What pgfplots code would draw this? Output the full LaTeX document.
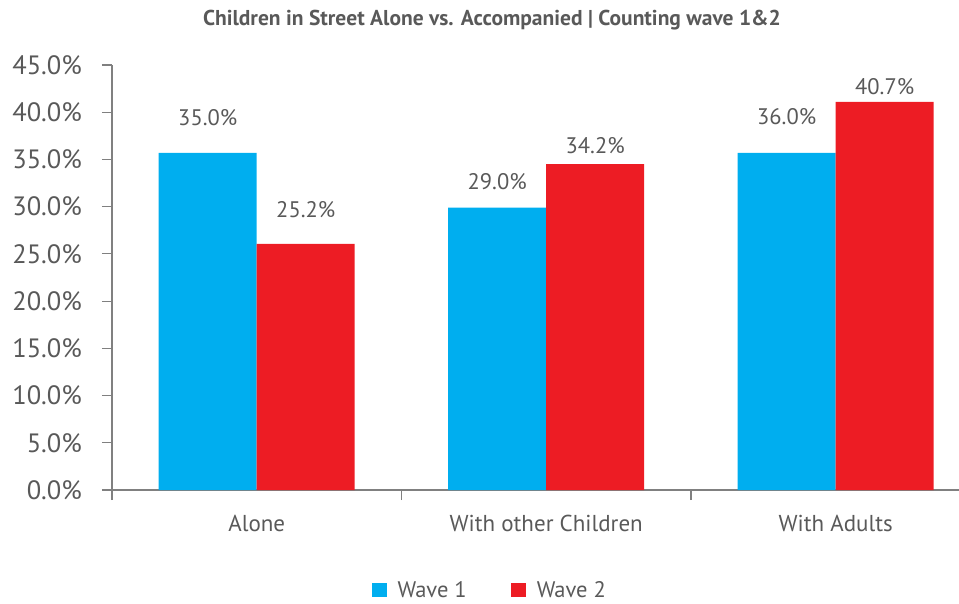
\documentclass[border=0pt]{standalone}
\usepackage{fontspec}
\setmainfont{PT Sans}
\usepackage{pgfplots}
\pgfplotsset{compat=1.18}
\usepackage{pgfplotstable}
\definecolor{wblue}{HTML}{00AEEF}
\definecolor{wred}{HTML}{ED1C24}
\definecolor{txtgray}{HTML}{595959}
\definecolor{axgray}{HTML}{808080}

% x: category index, y: bar height, lab: printed label, dy: label offset above bar (pt)
\pgfplotstableread{
x y lab dy
0 35.7 35.0 35
1 29.9 29.0 26
2 35.7 36.0 36
}\waveone
\pgfplotstableread{
x y lab dy
0 26.05 25.2 34
1 34.5 34.2 19
2 41.1 40.7 15
}\wavetwo

\begin{document}
\begin{tikzpicture}
\useasboundingbox (0,0) rectangle (959pt,603pt);
\begin{axis}[
  at={(112pt,113pt)}, anchor=south west,
  scale only axis, width=847pt, height=425pt,
  xmin=-0.5, xmax=2.426, ymin=0, ymax=45,
  ybar=0pt, bar width=98pt,
  axis lines*=left,
  axis line style={draw=axgray, line width=1.2pt},
  tick align=outside,
  major tick length=10pt,
  major tick style={draw=axgray, line width=1.2pt},
  ytick={0,5,...,45},
  yticklabel={\pgfmathprintnumber[fixed,fixed zerofill,precision=1]{\tick}\%},
  /pgf/number format/assume math mode=true,
  yticklabel style={font=\fontsize{26.5}{29}\selectfont, text=txtgray, anchor=east, inner sep=0pt, xshift=-20pt},
  xtick={-0.5,0.5,1.5},
  xticklabels={},
  extra x ticks={0,1,2},
  extra x tick labels={Alone, With other Children, With Adults},
  extra x tick style={major tick length=0pt, tick label style={font=\fontsize{23}{26}\selectfont, text=txtgray, anchor=base, yshift=-41pt}},
  nodes near coords={\pgfmathprintnumber[fixed,fixed zerofill,precision=1]{\pgfplotspointmeta}\%},
  point meta=explicit,
  visualization depends on={\thisrow{dy} \as \labeldy},
  nodes near coords style={font=\fontsize{22.5}{25}\selectfont, text=txtgray, anchor=center, yshift=\labeldy pt},
  legend style={at={(0.446,-0.235)}, anchor=center, draw=none, fill=none,
    legend columns=2, font=\fontsize{22.5}{25}\selectfont, text=txtgray,
    inner sep=1pt,
    /tikz/every even column/.append style={column sep=42pt}},
  legend image code/.code={\fill[#1] (0pt,-7pt) rectangle (15pt,7pt); \path (24pt,0pt);},
  clip=false,
]
\addplot[fill=wblue, draw=none] table[x=x, y=y, meta=lab] {\waveone};
\addlegendentry{Wave 1}
\addplot[fill=wred, draw=none] table[x=x, y=y, meta=lab] {\wavetwo};
\addlegendentry{Wave 2}
\end{axis}
\node[font=\bfseries\fontsize{21.5}{24}\selectfont, text=txtgray] at (492pt,583pt) {Children in Street Alone vs. Accompanied | Counting wave 1\&2};
\end{tikzpicture}
\end{document}
